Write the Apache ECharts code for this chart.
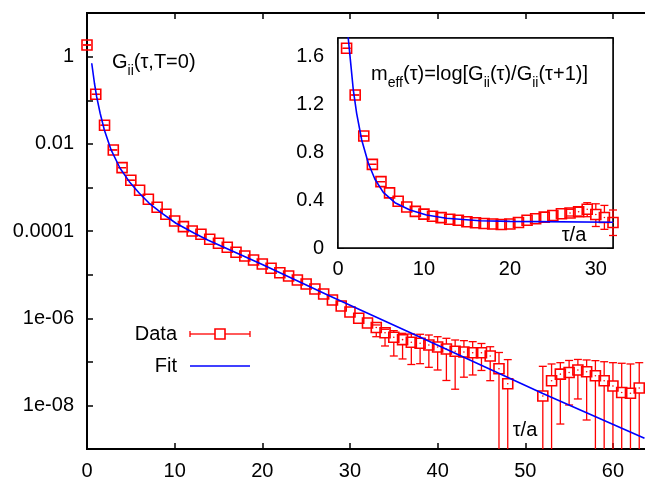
<!DOCTYPE html>
<html>
<head>
<meta charset="utf-8">
<script src="https://cdn.jsdelivr.net/npm/echarts@6/dist/echarts.min.js"></script>
<style>
html, body { margin: 0; padding: 0; background: #fff; }
#main { width: 645px; height: 477px; }
</style>
</head>
<body>
<div id="main"></div>
<script>
// correlator G_ii(tau) with error bounds (null = not drawn / negative)
var tau = [];
for (var t = 0; t < 64; t++) tau.push(t);
var corr = [1.85, 0.137, 0.0268, 0.00727, 0.00286, 0.00147, 8.67e-4, 5.40e-4, 3.53e-4, 2.44e-4,
  1.71e-4, 1.27e-4, 1.01e-4, 8.5e-5, 6.53e-5, 5.29e-5, 4.28e-5, 3.29e-5, 2.70e-5, 2.19e-5,
  1.77e-5, 1.41e-5, 1.12e-5, 9.4e-6, 7.6e-6, 6.17e-6, 4.74e-6, 3.64e-6, 2.65e-6, 1.93e-6,
  1.41e-6, 1.01e-6, 7.87e-7, 6.21e-7, 4.72e-7, 3.71e-7, 3.27e-7, 2.85e-7, 2.70e-7, 2.47e-7,
  2.22e-7, 2.0e-7, 1.77e-7, 1.71e-7, 1.64e-7, 1.64e-7, 1.38e-7, 7.06e-8, 3.2e-8, null,
  null, null, 1.67e-8, 3.73e-8, 5.29e-8, 5.78e-8, 6.59e-8, 6.03e-8, 4.86e-8, 3.75e-8,
  2.84e-8, 2.01e-8, 1.93e-8, 2.55e-8];
var corrHi = [1.85, 0.137, 0.0268, 0.00727, 0.00286, 0.00147, null, null, null, null,
  null, null, null, null, null, null, null, null, null, null,
  null, null, null, null, null, null, null, null, null, null,
  null, null, null, 7.10e-7, 5.65e-7, 5.25e-7, 4.57e-7, 4.41e-7, 4.34e-7, 4.18e-7,
  3.82e-7, 3.51e-7, 3.21e-7, 3.10e-7, 2.94e-7, 2.67e-7, 2.25e-7, 1.66e-7, 1.14e-7, null,
  null, null, 8.0e-8, 9.06e-8, 9.7e-8, 1.09e-7, 1.15e-7, 1.12e-7, 1.08e-7, 1.02e-7,
  9.7e-8, 9.4e-8, 9.06e-8, 9.7e-8];
var corrLo = [1.85, 0.137, 0.0268, 0.00727, 0.00286, 0.00147, null, null, null, null,
  null, null, null, null, null, null, null, null, null, null,
  null, null, null, null, null, null, null, null, null, null,
  null, null, null, 3.82e-7, 2.34e-7, 1.38e-7, 1.18e-7, 8.81e-8, 9.2e-8, 7.6e-8,
  6.59e-8, 3.79e-8, 2.39e-8, 4.51e-8, 5.07e-8, 6.43e-8, 3.75e-8, 0, 0, null,
  null, null, 0, 0, 3.81e-9, 1.04e-8, 1.43e-8, 4.71e-9, 0, 0,
  0, 0, 0, 0];

// fit curve
var fitTau = [0.54, 0.85, 1.1, 1.5, 1.98, 2.75, 3.77, 4.83, 5.97, 7.1, 8.45, 10.15, 12.25, 13.77, 20, 27.7, 37.9, 52, 63.6];
var fitVal = [0.706, 0.2456, 0.1211, 0.0504, 0.0209, 0.00727, 0.00277, 0.001365, 7.40e-4, 4.36e-4,
  2.66e-4, 1.52e-4, 8.96e-5, 6.29e-5, 1.73e-5, 3.27e-6, 3.82e-7, 1.91e-8, 1.79e-9];

// effective mass (inset)
var meffTau = [];
for (var k = 1; k <= 32; k++) meffTau.push(k);
var meff = [1.664, 1.275, 0.933, 0.697, 0.553, 0.459, 0.39, 0.342, 0.305, 0.282,
  0.264, 0.253, 0.239, 0.231, 0.219, 0.21, 0.204, 0.200, 0.196, 0.200,
  0.2125, 0.231, 0.244, 0.257, 0.271, 0.285, 0.292, 0.3025, 0.323, 0.279,
  0.254, 0.2125];
var meffHi = [1.664, 1.275, 0.933, 0.697, 0.553, null, null, null, null, null,
  null, null, null, null, null, null, null, null, null, null,
  null, null, null, null, null, null, 0.3225, 0.3392, 0.3775, 0.3683,
  0.3550, 0.3167];
var meffLo = [1.664, 1.275, 0.933, 0.697, 0.553, null, null, null, null, null,
  null, null, null, null, null, null, null, null, null, null,
  null, null, null, null, null, null, 0.2667, 0.2667, 0.2608, 0.1792,
  0.1556, 0.1042];
var meffFitTau = [1.1, 1.48, 1.78, 2.17, 2.76, 3.53, 4.3, 5.27, 6.63, 8.37, 10.3, 12.6, 16.5, 20, 32];
var meffFitVal = [1.817, 1.539, 1.317, 1.1225, 0.9, 0.706, 0.5725, 0.464, 0.3775, 0.317, 0.275, 0.2475, 0.2275, 0.222, 0.215];

var FONT = "'Liberation Sans', Arial, Helvetica, sans-serif";
var RED = '#ff0000';
var BLUE = '#0000ff';
var HALF = 5;

var myChart = echarts.init(document.getElementById('main'), null, { renderer: 'canvas' });

function rows(xs, ys, los, his) {
  var out = [];
  for (var i = 0; i < xs.length; i++) {
    if (ys[i] == null) continue;
    out.push([xs[i], ys[i], los[i], his[i]]);
  }
  return out;
}
function pairs(xs, ys) {
  return xs.map(function (x, i) { return [x, ys[i]]; });
}
function okNum(v) { return v != null && !isNaN(v); }

function errorBarItem(params, api) {
  var x = api.value(0), v = api.value(1), lo = api.value(2), hi = api.value(3);
  var p = api.coord([x, v]);
  var cs = params.coordSys;
  var bottom = cs.y + cs.height;
  var st = { stroke: RED, lineWidth: 1.3 };
  var kids = [{
    type: 'rect',
    shape: { x: p[0] - HALF, y: p[1] - HALF, width: 2 * HALF, height: 2 * HALF },
    style: { fill: 'none', stroke: RED, lineWidth: 1.6 }
  }];
  if (okNum(hi)) {
    var yh = api.coord([x, hi])[1];
    kids.push({ type: 'line', shape: { x1: p[0] - 4, y1: yh, x2: p[0] + 4, y2: yh }, style: st });
    if (yh < p[1] - HALF) kids.push({ type: 'line', shape: { x1: p[0], y1: yh, x2: p[0], y2: p[1] - HALF }, style: st });
  }
  if (okNum(lo)) {
    var yl = lo > 0 ? Math.min(api.coord([x, lo])[1], bottom) : bottom;
    if (lo > 0) kids.push({ type: 'line', shape: { x1: p[0] - 4, y1: yl, x2: p[0] + 4, y2: yl }, style: st });
    if (yl > p[1] + HALF) kids.push({ type: 'line', shape: { x1: p[0], y1: p[1] + HALF, x2: p[0], y2: yl }, style: st });
  }
  if (okNum(hi) && okNum(lo) && hi > lo) {
    kids.push({ type: 'circle', shape: { cx: p[0], cy: p[1], r: 0.8 }, style: { fill: RED } });
  }
  return { type: 'group', children: kids };
}

function logLabel(v) {
  var l = Math.log(v) / Math.LN10;
  var e = Math.round(l);
  if (Math.abs(l - e) > 0.01 || e % 2 !== 0) return '';
  if (e === 0) return '1';
  if (e > -5) return (Math.pow(10, e)).toFixed(-e);
  return '1e-0' + (-e);
}

var labelBase = { color: '#000', fontSize: 20, fontFamily: FONT };
var tickBase = { inside: true, length: 6, lineStyle: { color: '#000', width: 1.5 } };

var rich = {
  n: { fontSize: 20, fontFamily: FONT, color: '#000', lineHeight: 31, verticalAlign: 'middle' },
  s: { fontSize: 14, fontFamily: FONT, color: '#000', lineHeight: 14, verticalAlign: 'bottom' }
};

var option = {
  animation: false,
  backgroundColor: '#fff',
  textStyle: { fontFamily: FONT },
  grid: [
    { left: 87, top: 13, width: 561, height: 436, show: true, borderColor: '#000', borderWidth: 2,
      containLabel: false, outerBoundsMode: 'none', z: 0 },
    { left: 338, top: 38, width: 275, height: 210, show: true, borderColor: '#000', borderWidth: 1.5,
      backgroundColor: '#fff', containLabel: false, outerBoundsMode: 'none', z: 5 }
  ],
  xAxis: [
    { gridIndex: 0, type: 'value', min: 0, max: 64, interval: 10,
      axisLine: { show: true, onZero: false, lineStyle: { color: '#000', width: 2 } },
      axisTick: tickBase,
      axisLabel: Object.assign({ margin: 12, showMaxLabel: false }, labelBase),
      splitLine: { show: false } },
    { gridIndex: 0, type: 'value', position: 'top', min: 0, max: 64, interval: 10,
      axisLine: { show: true, onZero: false, lineStyle: { color: '#000', width: 2 } },
      axisTick: tickBase, axisLabel: { show: false }, splitLine: { show: false } },
    { gridIndex: 1, type: 'value', min: 0, max: 32, interval: 10,
      axisLine: { show: true, onZero: false, lineStyle: { color: '#000', width: 1.5 } },
      axisTick: tickBase,
      axisLabel: Object.assign({ margin: 11, showMaxLabel: false }, labelBase),
      splitLine: { show: false } },
    { gridIndex: 1, type: 'value', position: 'top', min: 0, max: 32, interval: 10,
      axisLine: { show: true, onZero: false, lineStyle: { color: '#000', width: 1.5 } },
      axisTick: tickBase, axisLabel: { show: false }, splitLine: { show: false } }
  ],
  yAxis: [
    { gridIndex: 0, type: 'log', logBase: 10, min: 1.02e-9, max: 10, splitNumber: 10,
      axisLine: { show: true, onZero: false, lineStyle: { color: '#000', width: 2 } },
      axisTick: tickBase,
      axisLabel: Object.assign({ margin: 13, formatter: logLabel, showMinLabel: false, showMaxLabel: false }, labelBase),
      splitLine: { show: false } },
    { gridIndex: 1, type: 'value', min: 0, max: 1.75, interval: 0.4,
      axisLine: { show: true, onZero: false, lineStyle: { color: '#000', width: 1.5 } },
      axisTick: tickBase,
      axisLabel: Object.assign({ margin: 14, showMaxLabel: false }, labelBase),
      splitLine: { show: false } },
    { gridIndex: 1, type: 'value', position: 'right', min: 0, max: 1.75, interval: 0.4,
      axisLine: { show: true, onZero: false, lineStyle: { color: '#000', width: 1.5 } },
      axisTick: tickBase, axisLabel: { show: false }, splitLine: { show: false } }
  ],
  series: [
    { name: 'Data', type: 'custom', xAxisIndex: 0, yAxisIndex: 0, clip: false, z: 3,
      encode: { x: 0, y: 1 }, renderItem: errorBarItem,
      data: rows(tau, corr, corrLo, corrHi) },
    { name: 'Fit', type: 'line', xAxisIndex: 0, yAxisIndex: 0, showSymbol: false, clip: true, z: 4,
      lineStyle: { color: BLUE, width: 1.6 }, data: pairs(fitTau, fitVal) },
    { name: 'meff', type: 'custom', xAxisIndex: 2, yAxisIndex: 1, clip: false, z: 6,
      encode: { x: 0, y: 1 }, renderItem: errorBarItem,
      data: rows(meffTau, meff, meffLo, meffHi) },
    { name: 'meffFit', type: 'line', xAxisIndex: 2, yAxisIndex: 1, showSymbol: false, clip: true, z: 7,
      lineStyle: { color: BLUE, width: 1.6 }, data: pairs(meffFitTau, meffFitVal) }
  ],
  graphic: [
    { type: 'text', left: 112, top: 68 - 15.5, z: 10,
      style: { text: '{n|G}{s|ii}{n|(τ,T=0)}', rich: rich } },
    { type: 'text', left: 371, top: 80 - 15.5, z: 10,
      style: { text: '{n|m}{s|eff}{n|(τ)=log[G}{s|ii}{n|(τ)/G}{s|ii}{n|(τ+1)]}', rich: rich } },
    { type: 'text', x: 574, y: 235, z: 10,
      style: { text: 'τ/a', font: '20px ' + FONT, fill: '#000', align: 'center', verticalAlign: 'middle' } },
    { type: 'text', x: 525, y: 430, z: 10,
      style: { text: 'τ/a', font: '20px ' + FONT, fill: '#000', align: 'center', verticalAlign: 'middle' } },
    // legend
    { type: 'text', x: 177, y: 334, z: 10,
      style: { text: 'Data', font: '20px ' + FONT, fill: '#000', align: 'right', verticalAlign: 'middle' } },
    { type: 'text', x: 177, y: 366, z: 10,
      style: { text: 'Fit', font: '20px ' + FONT, fill: '#000', align: 'right', verticalAlign: 'middle' } },
    { type: 'group', z: 10, children: [
      { type: 'line', shape: { x1: 190, y1: 334, x2: 215, y2: 334 }, style: { stroke: RED, lineWidth: 1.3 } },
      { type: 'line', shape: { x1: 225, y1: 334, x2: 250, y2: 334 }, style: { stroke: RED, lineWidth: 1.3 } },
      { type: 'line', shape: { x1: 190, y1: 331, x2: 190, y2: 337 }, style: { stroke: RED, lineWidth: 1.3 } },
      { type: 'line', shape: { x1: 250, y1: 331, x2: 250, y2: 337 }, style: { stroke: RED, lineWidth: 1.3 } },
      { type: 'rect', shape: { x: 215, y: 329, width: 10, height: 10 }, style: { fill: 'none', stroke: RED, lineWidth: 1.6 } },
      { type: 'line', shape: { x1: 190, y1: 366, x2: 250, y2: 366 }, style: { stroke: BLUE, lineWidth: 1.6 } }
    ] }
  ]
};

myChart.setOption(option);
</script>
</body>
</html>
